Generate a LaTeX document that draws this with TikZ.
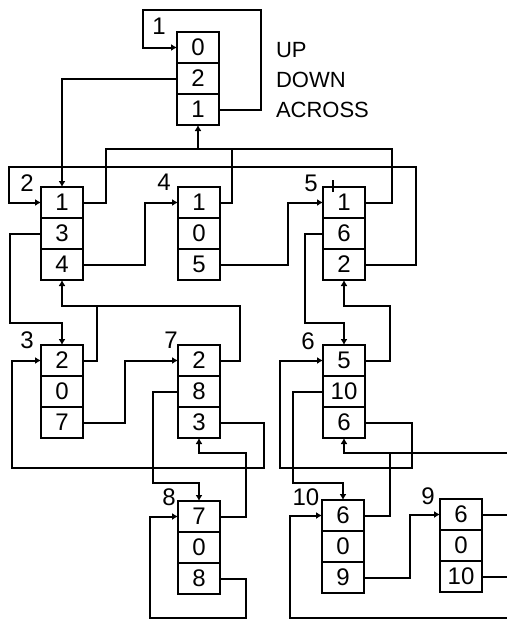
\documentclass[tikz,border=0pt]{standalone}
\usepackage{fontspec}
\setmainfont{Liberation Sans}
\usetikzlibrary{arrows.meta}

\begin{document}
\begin{tikzpicture}[
        x=0.5pt, y=-0.5pt,
        line width=1pt,
        cell/.style={draw, minimum width=21pt, minimum height=15.5pt, inner sep=0pt, outer sep=0pt, font=\fontsize{12}{12}\selectfont},
        lbl/.style={inner sep=0pt, font=\fontsize{12}{12}\selectfont},
        ptr/.style={-{Latex[length=3pt,width=3.5pt]}}
    ]
        \useasboundingbox (0,0) rectangle (507,621);
        % Registros: UP, DOWN, ACROSS
        \foreach \n/\x/\y/\u/\d/\a in {1/198/32/0/2/1, 2/62/187/1/3/4, 4/199/187/1/0/5, 5/344/187/1/6/2,
                3/62/345/2/0/7, 7/199/345/2/8/3, 6/344/345/5/10/6, 8/199/501/7/0/8, 10/343/500/6/0/9, 9/461/499/6/0/10} {
            \node[cell] (u\n) at (\x,\y+15.5) {\u};
            \node[cell] (d\n) at (\x,\y+46.5) {\d};
            \node[cell] (a\n) at (\x,\y+77.5) {\a};
        }
        % Rotulos
        \node[lbl] (lab1) at (159,26) {1};
        \node[lbl] (lab2) at (27,183) {2};
        \node[lbl] (lab4) at (164,182) {4};
        \node[lbl] (lab5) at (311,183) {5};
        \node[lbl] (lab3) at (27,340) {3};
        \node[lbl] (lab7) at (171,340) {7};
        \node[lbl] (lab6) at (308,341) {6};
        \node[lbl] (lab8) at (169,497) {8};
        \node[lbl] (lab10) at (306,497) {10};
        \node[lbl] (lab9) at (428,496) {9};
        \node[lbl, anchor=west, font=\fontsize{11}{12}\selectfont] (up) at (275,50) {UP};
        \node[lbl, anchor=west, font=\fontsize{11}{12}\selectfont] (down) at (275,80) {DOWN};
        \node[lbl, anchor=west, font=\fontsize{11}{12}\selectfont] (across) at (275,110) {ACROSS};
        % Laco do 1 e DOWN do 1
        \draw[ptr] (a1.east) -| (261,10) -- (143,10) |- (u1.west);
        \draw[ptr] (d1.west) -| (u2.north);
        % UP de 2, 4, 5 para 1
        \draw (u5.east) -| (392,149) -- (106,149);
        \draw (u4.east) -| (232,149);
        \draw[ptr] (u2.east) -| (106,149) -| (a1.south);
        \draw ([shift={(-11,5)}]u5.north) -- ++(0,-12);
        % ACROSS 2 -> 4 -> 5 -> 2
        \draw[ptr] (a2.east) -| (145,230) |- (u4.west);
        \draw[ptr] (a4.east) -| (288,230) |- (u5.west);
        \draw[ptr] (a5.east) -| (416,167) -- (9,167) |- (u2.west);
        % DOWN do 2, UP para 2
        \draw[ptr] (d2.west) -| (10,323) -| (u3.north);
        \draw (u7.east) -| (240,306) -- (97,306);
        \draw[ptr] (u3.east) -| (97,306) -| (a2.south);
        % ACROSS 3 -> 7 -> 3
        \draw[ptr] (a3.east) -| (125,390) |- (u7.west);
        \draw[ptr] (a7.east) -| (264,468) -| (12,400) |- (u3.west);
        % DOWN do 7, UP para 7, laco do 8
        \draw[ptr] (d7.west) -| (153,483) -| (u8.north);
        \draw[ptr] (u8.east) -| (246,453) -| (a7.south);
        \draw[ptr] (a8.east) -| (246,618) -| (150,560) |- (u8.west);
        % DOWN do 5, UP para 5, laco do 6
        \draw[ptr] (d5.west) -| (305,323) -| (u6.north);
        \draw[ptr] (u6.east) -| (390,306) -| (a5.south);
        \draw[ptr] (a6.east) -| (412,468) -| (280,400) |- (u6.west);
        % DOWN do 6, UP para 6
        \draw[ptr] (d6.west) -| (293,483) -| (u10.north);
        \draw (507,453) -- (390,453);
        \draw[ptr] (u10.east) -| (390,453) -| (a6.south);
        % ACROSS 10 -> 9 -> 10
        \draw[ptr] (a10.east) -| (410,540) |- (u9.west);
        \draw (u9.east) -- ++(26,0);
        \draw (a9.east) -- ++(26,0);
        \draw[ptr] (507,618) -| (290,560) |- (u10.west);
    \end{tikzpicture}
\end{document}
